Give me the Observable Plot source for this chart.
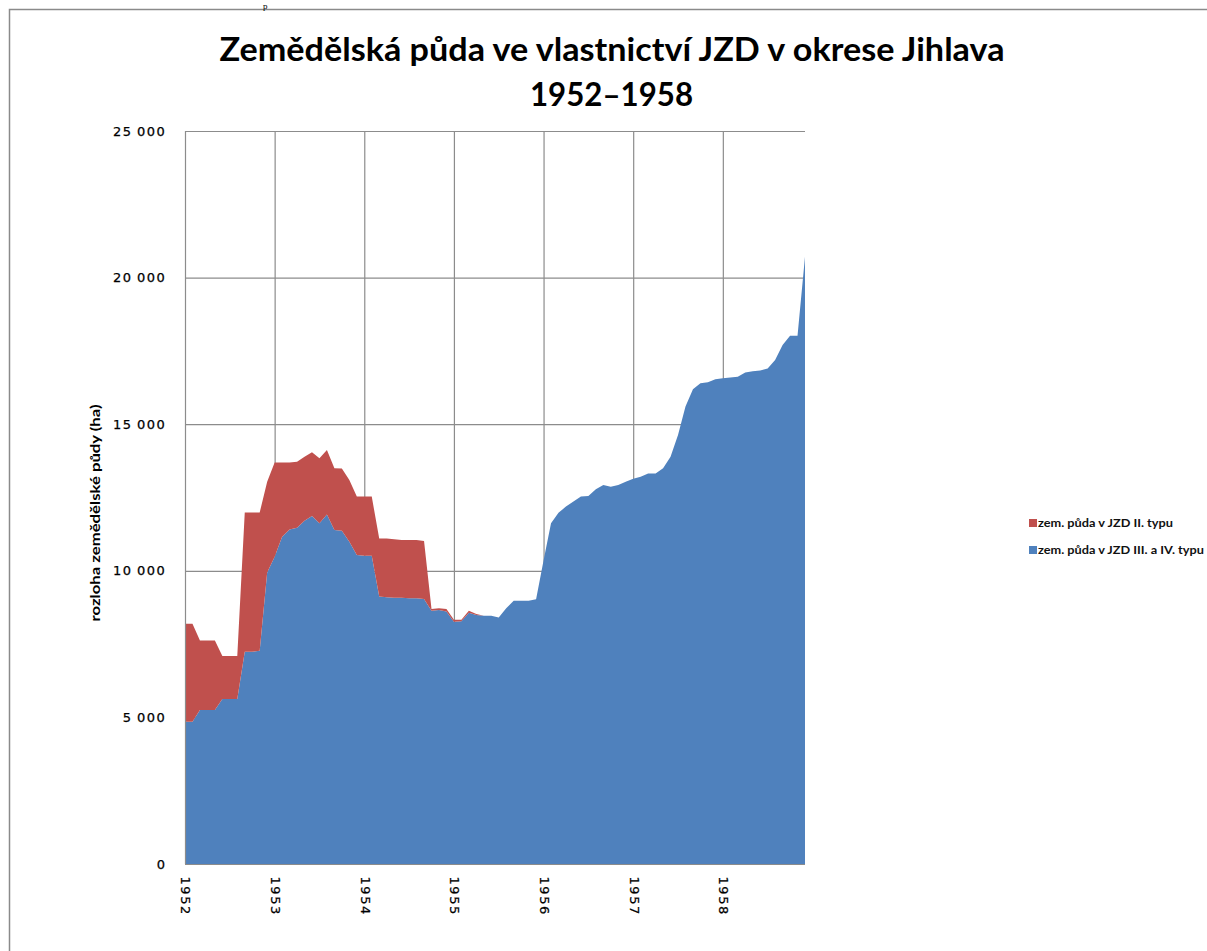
<!DOCTYPE html>
<html><head><meta charset="utf-8">
<script src="https://cdn.jsdelivr.net/npm/d3@7"></script>
<script src="https://cdn.jsdelivr.net/npm/@observablehq/plot@0.6"></script>
<style>
body{margin:0;background:#fff;width:1207px;height:951px;overflow:hidden;position:relative;}
#chart{position:absolute;left:0;top:0;}
#overlay{position:absolute;left:0;top:0;pointer-events:none;}
#chart svg text{letter-spacing:1.6px;stroke:#000;stroke-width:0.25px;}
</style></head><body>
<div id="chart"></div>
<svg id="overlay" width="1207" height="951" xmlns="http://www.w3.org/2000/svg"></svg>
<script>
const titleLine1 = "Zemědělská půda ve vlastnictví JZD v okrese Jihlava";
const titleLine2 = "1952–1958";
const yLabel = "rozloha zemědělské půdy (ha)";
const seriesNames = ["zem. půda v JZD III. a IV. typu", "zem. půda v JZD II. typu"];
const seriesColors = ["#4F81BD", "#C0504D"];
const startYear = 1952;
const yearTicks = [1952, 1953, 1954, 1955, 1956, 1957, 1958];
const yTicks = [0, 5000, 10000, 15000, 20000, 25000];

// monthly values, Jan 1952 – Dec 1958 (ha)
const typeIIIandIV = [
  4850, 4850, 5250, 5250, 5250, 5630, 5630, 5630, 7240, 7240, 7270, 9940,
  10480, 11160, 11410, 11470, 11710, 11870, 11620, 11920, 11390, 11370, 10990, 10540,
  10510, 10510, 9120, 9100, 9080, 9080, 9060, 9060, 9040, 8640, 8660, 8610,
  8260, 8280, 8570, 8490, 8470, 8470, 8410, 8720, 8980, 8980, 8980, 9030,
  10350, 11620, 11980, 12190, 12360, 12530, 12550, 12780, 12930, 12870, 12930, 13040,
  13140, 13210, 13320, 13320, 13500, 13890, 14630, 15600, 16190, 16400, 16430, 16530,
  16570, 16590, 16620, 16760, 16810, 16830, 16900, 17190, 17700, 18020, 18020, 20710
];
const typeII = [
  3340, 3340, 2370, 2370, 2370, 1460, 1460, 1460, 4750, 4750, 4720, 3100,
  3210, 2530, 2280, 2250, 2180, 2170, 2220, 2200, 2110, 2120, 2110, 1990,
  2020, 2020, 1980, 2000, 2000, 1970, 1990, 1990, 1980, 60, 60, 90,
  70, 50, 70, 40, 0, 0, 0, 0, 0, 0, 0, 0,
  0, 0, 0, 0, 0, 0, 0, 0, 0, 0, 0, 0,
  0, 0, 0, 0, 0, 0, 0, 0, 0, 0, 0, 0,
  0, 0, 0, 0, 0, 0, 0, 0, 0, 0, 0, 0
];

const rows = [];
typeIIIandIV.forEach((v, i) => rows.push({t: startYear + i / 12, series: seriesNames[0], value: v}));
typeII.forEach((v, i) => rows.push({t: startYear + i / 12, series: seriesNames[1], value: v}));

const fmt = d => d === 0 ? "0" : d3.format(",")(d).replace(/,/g, "\u2009");
const gridColor = "#8c8c8c";
const lastT = startYear + (typeIIIandIV.length - 1) / 12;

const chart = Plot.plot({
  width: 1207, height: 951,
  marginLeft: 185, marginRight: 402, marginTop: 131, marginBottom: 87,
  x: {domain: [startYear, lastT], label: null},
  y: {domain: [0, 25000], label: null},
  color: {domain: seriesNames, range: seriesColors},
  style: {fontFamily: "DejaVu Sans, sans-serif", fontSize: "13px", color: "#000", background: "transparent"},
  marks: [
    Plot.ruleY(yTicks.filter(d => d > 0), {stroke: gridColor, strokeWidth: 1.2}),
    Plot.ruleX(yearTicks.filter(d => d > startYear), {stroke: gridColor, strokeWidth: 1.2}),
    Plot.areaY(rows, {x: "t", y: "value", z: "series", fill: "series", order: seriesNames}),
    Plot.ruleX([startYear], {stroke: gridColor, strokeWidth: 1.2}),
    Plot.ruleY([0], {stroke: gridColor, strokeWidth: 1.2}),
    Plot.axisY({ticks: yTicks, tickFormat: fmt, tickSize: 0, tickPadding: 19, label: null, fill: "#000"}),
    Plot.axisX({ticks: yearTicks, tickFormat: d => String(d), tickRotate: 90, tickSize: 0, tickPadding: 12, label: null, fill: "#000"})
  ]
});
document.getElementById("chart").appendChild(chart);

// title, y label, legend, frame
const ov = d3.select("#overlay");
ov.append("rect").attr("x", 9.5).attr("y", 9.5).attr("width", 1210).attr("height", 960)
  .attr("fill", "none").attr("stroke", "#8a8a8a").attr("stroke-width", 1.5);
ov.append("text").attr("x", 263).attr("y", 9).attr("font-family", "Liberation Serif, serif")
  .attr("font-size", 9).attr("fill", "#000").text("p");
ov.append("text").attr("x", 612).attr("y", 61).attr("text-anchor", "middle")
  .attr("font-family", "Lato, sans-serif").attr("font-weight", "bold").attr("font-size", 32)
  .attr("textLength", 785).attr("lengthAdjust", "spacingAndGlyphs").attr("fill", "#000").text(titleLine1);
ov.append("text").attr("x", 611.5).attr("y", 106).attr("text-anchor", "middle")
  .attr("font-family", "Lato, sans-serif").attr("font-weight", "bold").attr("font-size", 32)
  .attr("textLength", 163).attr("lengthAdjust", "spacingAndGlyphs").attr("fill", "#000").text(titleLine2);
ov.append("text").attr("transform", "translate(100,513) rotate(-90)").attr("text-anchor", "middle")
  .attr("font-family", "Lato, sans-serif").attr("font-weight", "bold").attr("font-size", 14)
  .attr("textLength", 217).attr("lengthAdjust", "spacingAndGlyphs").attr("fill", "#000").text(yLabel);

const legendItems = [
  {name: seriesNames[1], color: seriesColors[1], y: 519, len: 135},
  {name: seriesNames[0], color: seriesColors[0], y: 546, len: 166}
];
legendItems.forEach(it => {
  ov.append("rect").attr("x", 1029).attr("y", it.y).attr("width", 8).attr("height", 8).attr("fill", it.color);
  ov.append("text").attr("x", 1038).attr("y", it.y + 8).attr("font-family", "Lato, sans-serif")
    .attr("font-weight", "bold").attr("font-size", 10.5).attr("fill", "#111")
    .attr("textLength", it.len).attr("lengthAdjust", "spacingAndGlyphs").text(it.name);
});
</script>
</body></html>
